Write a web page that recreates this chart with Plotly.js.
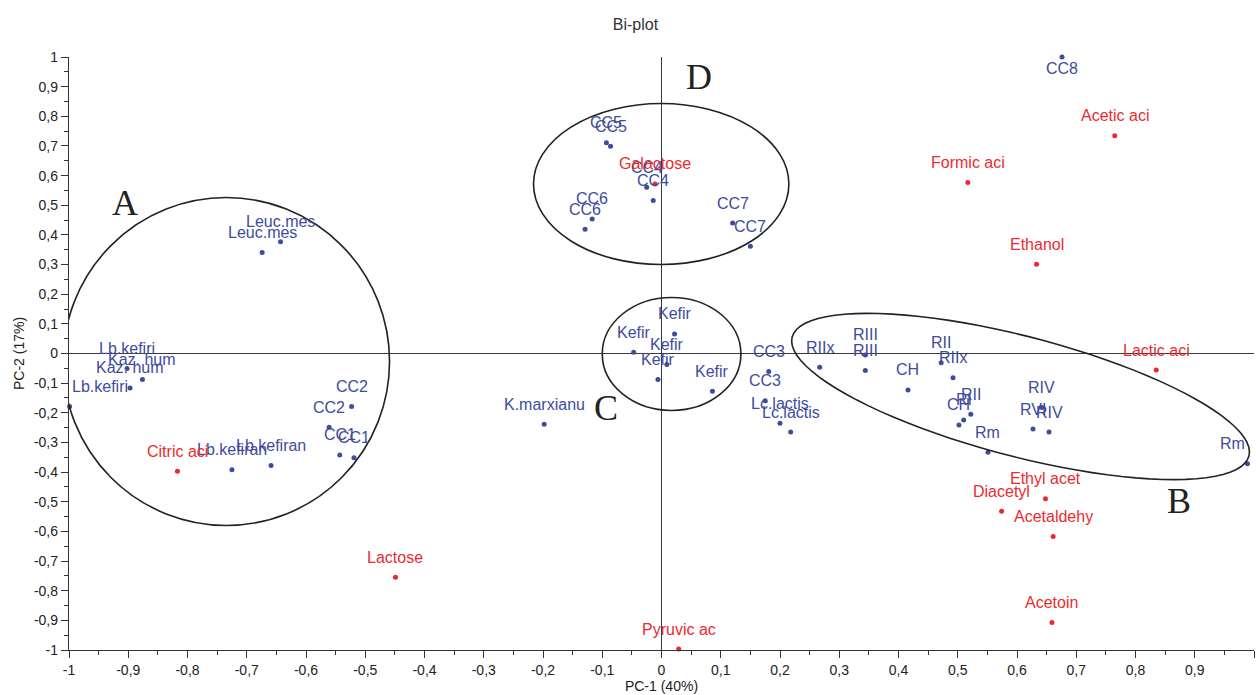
<!DOCTYPE html>
<html>
<head>
<meta charset="utf-8">
<script src="https://cdn.plot.ly/plotly-3.0.1.min.js"></script>
<style>html,body{margin:0;padding:0;background:#fff}#chart{width:1256px;height:695px}</style>
</head>
<body>
<div id="chart"></div>
<script>
const sampleLabels = ["CC8","Leuc.mes","Leuc.mes","Lb.kefiri","Kaz. hum","Kaz. hum","Lb.kefiri",
  "CC2","CC2","CC1","CC1","Lb.kefiran","Lb.kefiran","CC5","CC5","CC4","CC4","CC6","CC6","CC7","CC7",
  "Kefir","Kefir","Kefir","Kefir","Kefir","K.marxianu","CC3","CC3","Lc.lactis","Lc.lactis",
  "RIIx","RIII","RIII","CH","RII","RIIx","RII","CH","RI","Rm","RIV","RVI","RIV","Rm"];
const sampleX = [0.676,-0.674,-0.643,-0.902,-0.876,-0.897,-0.999,
  -0.523,-0.561,-0.543,-0.519,-0.725,-0.659,-0.093,-0.086,-0.025,-0.014,-0.117,-0.129,0.120,0.150,
  0.022,-0.047,0.009,-0.006,0.086,-0.198,0.181,0.175,0.200,0.218,
  0.267,0.344,0.344,0.416,0.472,0.492,0.522,0.502,0.510,0.551,0.642,0.627,0.654,0.989];
const sampleY = [1.000,0.341,0.377,-0.051,-0.088,-0.116,-0.179,
  -0.179,-0.249,-0.342,-0.352,-0.392,-0.378,0.711,0.699,0.561,0.516,0.454,0.419,0.440,0.362,
  0.066,0.004,-0.037,-0.088,-0.127,-0.239,-0.061,-0.159,-0.235,-0.265,
  -0.046,-0.005,-0.057,-0.123,-0.031,-0.082,-0.205,-0.241,-0.224,-0.333,-0.182,-0.255,-0.265,-0.372];

const variableLabels = ["Acetic aci","Formic aci","Ethanol","Galactose","Lactic aci","Citric aci",
  "Ethyl acet","Diacetyl","Acetaldehy","Lactose","Acetoin","Pyruvic ac"];
const variableX = [0.765,0.517,0.633,-0.011,0.835,-0.817,0.648,0.574,0.661,-0.449,0.659,0.029];
const variableY = [0.734,0.577,0.301,0.572,-0.056,-0.397,-0.490,-0.532,-0.617,-0.755,-0.907,-0.997];

const tickValues = [-1,-0.9,-0.8,-0.7,-0.6,-0.5,-0.4,-0.3,-0.2,-0.1,0,0.1,0.2,0.3,0.4,0.5,0.6,0.7,0.8,0.9,1];
const tickLabels = ["-1","-0,9","-0,8","-0,7","-0,6","-0,5","-0,4","-0,3","-0,2","-0,1","0",
  "0,1","0,2","0,3","0,4","0,5","0,6","0,7","0,8","0,9","1"];

const groupLetters = ["A","B","C","D"];
const groupLetterX = [-0.905,0.873,-0.093,0.0625];
const groupLetterY = [0.506,-0.496,-0.185,0.934];

// ---- Styling ----
const BLUE = "#3d4c9e";
const RED = "#ec2a2e";
const LABEL_FONT = "Liberation Sans, Arial, sans-serif";
const PX_PER_X = 592.5, PX_PER_Y = 296.5;

function pointLabels(labels, xs, ys, color) {
  return labels.map((t, i) => {
    const x = xs[i], y = ys[i];
    return {
      x: x, y: y, xref: "x", yref: "y", text: t, showarrow: false,
      xanchor: x < -0.95 ? "left" : (x > 0.95 ? "right" : "center"),
      yanchor: "middle",
      yshift: y > 0.95 ? -11 : 20,
      font: {family: LABEL_FONT, size: 16, color: color}
    };
  });
}

function rotatedEllipsePath(cx, cy, aPx, bPx, deg) {
  const th = deg * Math.PI / 180;
  let d = "";
  for (let i = 0; i <= 90; i++) {
    const t = 2 * Math.PI * i / 90;
    const dx = aPx * Math.cos(t) * Math.cos(th) - bPx * Math.sin(t) * Math.sin(th);
    const dy = aPx * Math.cos(t) * Math.sin(th) + bPx * Math.sin(t) * Math.cos(th);
    const x = cx + dx / PX_PER_X, y = cy - dy / PX_PER_Y;
    d += (i ? "L" : "M") + x.toFixed(4) + "," + y.toFixed(4);
  }
  return d + "Z";
}

const ellipseLine = {color: "#222", width: 1.6};
const shapes = [
  {type: "circle", xref: "x", yref: "y", x0: -1.010, x1: -0.459, y0: 0.526, y1: -0.580, line: ellipseLine},
  {type: "circle", xref: "x", yref: "y", x0: -0.216, x1: 0.215, y0: 0.843, y1: 0.300, line: ellipseLine},
  {type: "circle", xref: "x", yref: "y", x0: -0.100, x1: 0.134, y0: 0.189, y1: -0.192, line: ellipseLine},
  {type: "path", xref: "x", yref: "y", path: rotatedEllipsePath(0.606, -0.145, 236, 60, 14.6), line: ellipseLine}
];

const letterAnnotations = groupLetters.map((t, i) => ({
  x: groupLetterX[i], y: groupLetterY[i], xref: "x", yref: "y", text: t, showarrow: false,
  xanchor: "center", yanchor: "middle",
  font: {family: "Liberation Serif, Times New Roman, serif", size: 36, color: "#222"}
}));

const traces = [
  {type: "scatter", mode: "markers", x: sampleX, y: sampleY, hoverinfo: "skip",
   marker: {color: BLUE, size: 5}, cliponaxis: false, showlegend: false},
  {type: "scatter", mode: "markers", x: variableX, y: variableY, hoverinfo: "skip",
   marker: {color: RED, size: 5}, cliponaxis: false, showlegend: false}
];

const axisCommon = {
  range: [-1, 1], tickmode: "array", tickvals: tickValues, ticktext: tickLabels,
  showgrid: false, zeroline: true, zerolinecolor: "#3a3a3a", zerolinewidth: 1.5,
  showline: true, linecolor: "#333", linewidth: 1.2,
  ticks: "outside", ticklen: 7, tickwidth: 1, tickcolor: "#333",
  minor: {tickmode: "linear", tick0: 0, dtick: 0.05, ticks: "outside", ticklen: 4, tickcolor: "#333", showgrid: false},
  tickfont: {family: LABEL_FONT, size: 14, color: "#222"}
};

const layout = {
  width: 1256, height: 695,
  margin: {l: 69, r: 2, t: 57, b: 45},
  paper_bgcolor: "#fff", plot_bgcolor: "#fff",
  title: {text: "Bi-plot", x: 0.478, xref: "paper", y: 0.965, yref: "container", yanchor: "middle",
          font: {family: LABEL_FONT, size: 16, color: "#333"}},
  xaxis: Object.assign({}, axisCommon, {
    title: {text: "PC-1 (40%)", standoff: 4, font: {family: LABEL_FONT, size: 14, color: "#222"}}
  }),
  yaxis: Object.assign({}, axisCommon, {
    title: {text: "PC-2 (17%)", standoff: 6, font: {family: LABEL_FONT, size: 14, color: "#222"}}
  }),
  shapes: shapes,
  annotations: pointLabels(sampleLabels, sampleX, sampleY, BLUE)
    .concat(pointLabels(variableLabels, variableX, variableY, RED))
    .concat(letterAnnotations),
  showlegend: false
};

Plotly.newPlot("chart", traces, layout, {displayModeBar: false, staticPlot: true});
</script>
</body>
</html>
